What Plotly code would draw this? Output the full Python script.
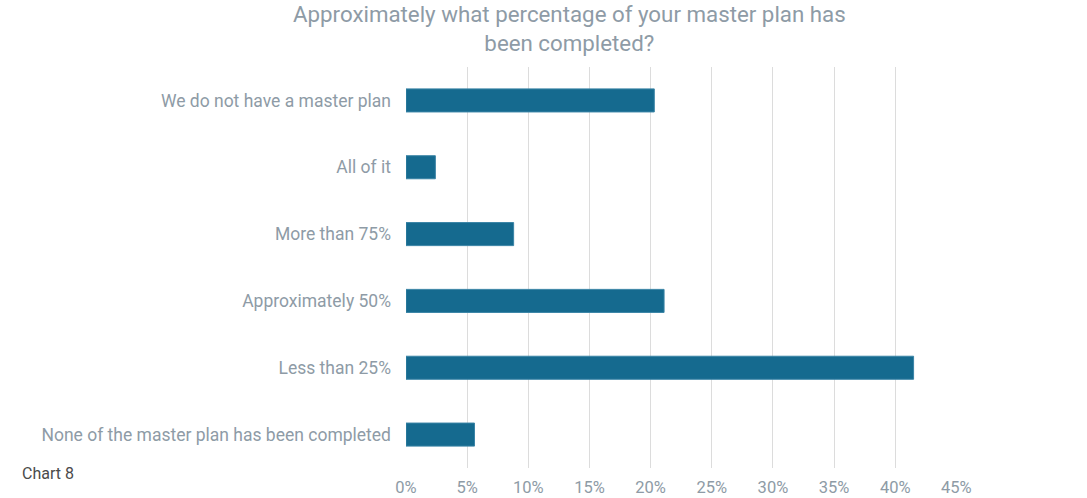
import plotly.graph_objects as go

categories = [
    "We do not have a master plan",
    "All of it",
    "More than 75%",
    "Approximately 50%",
    "Less than 25%",
    "None of the master plan has been completed",
]
values = [20.3, 2.4, 8.8, 21.1, 41.5, 5.6]
tick_vals = [0, 5, 10, 15, 20, 25, 30, 35, 40, 45]
tick_text = ["0%", "5%", "10%", "15%", "20%", "25%", "30%", "35%", "40%", "45%"]

GREY = "#8e9ba6"
FONT = "Roboto"

fig = go.Figure(
    go.Bar(
        x=values,
        y=categories,
        orientation="h",
        marker=dict(color="#156a8f", line=dict(color="#3a84a6", width=1)),
        hoverinfo="skip",
    )
)

fig.update_layout(
    width=1087,
    height=498,
    paper_bgcolor="white",
    plot_bgcolor="white",
    margin=dict(l=406, r=130, t=67, b=30),
    bargap=0.655,
    showlegend=False,
    font=dict(family=FONT, color=GREY),
    xaxis=dict(
        range=[0, 45.05],
        tickvals=tick_vals,
        ticktext=tick_text,
        showgrid=True,
        gridcolor="#dcdcdc",
        gridwidth=1,
        zeroline=False,
        showline=False,
        ticks="",
        ticklabelstandoff=7,
        automargin=False,
        tickfont=dict(family=FONT, size=16.5, color=GREY),
        fixedrange=True,
    ),
    yaxis=dict(
        categoryorder="array",
        categoryarray=list(reversed(categories)),
        showgrid=False,
        zeroline=False,
        showline=False,
        ticks="",
        ticklabelstandoff=14,
        automargin=False,
        tickfont=dict(family=FONT, size=17.5, color=GREY),
        fixedrange=True,
    ),
    annotations=[
        dict(
            text="Approximately what percentage of your master plan has<br>been completed?",
            xref="paper",
            yref="paper",
            x=(569 - 406) / 551,
            y=1,
            xanchor="center",
            yanchor="top",
            yshift=68,
            showarrow=False,
            align="center",
            font=dict(family=FONT, size=22.3, color=GREY),
        ),
        dict(
            text="Chart 8",
            xref="paper",
            yref="paper",
            x=-406 / 551,
            y=0,
            xanchor="left",
            yanchor="middle",
            xshift=20,
            yshift=(468 - 473),
            showarrow=False,
            font=dict(family=FONT, size=16, color="#4a4a4a"),
        ),
    ],
)

fig.write_html("out.html")
